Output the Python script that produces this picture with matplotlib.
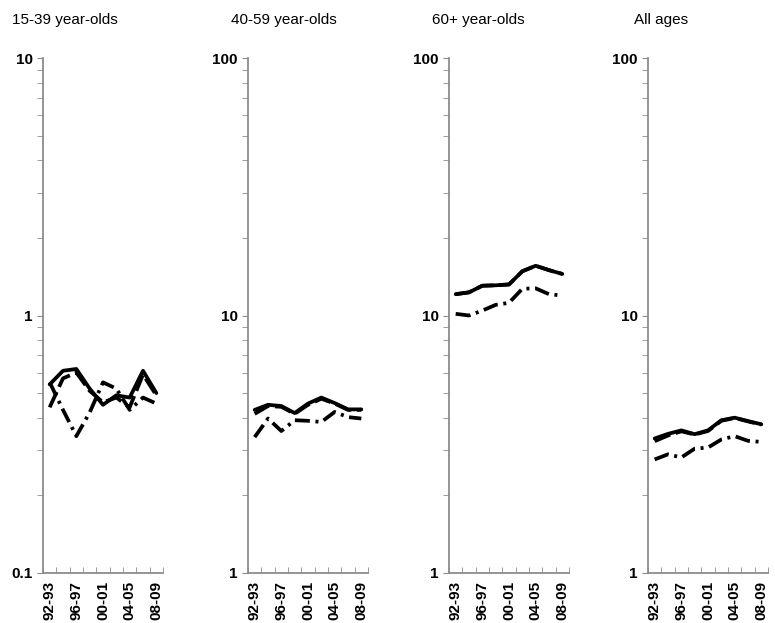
import numpy as np
import matplotlib
matplotlib.use("Agg")
import matplotlib.pyplot as plt
from matplotlib.ticker import FixedLocator, FuncFormatter, NullFormatter, LogLocator

plt.rcParams['font.family'] = ['Liberation Sans', 'DejaVu Sans']

periods = ['92-93', '94-95', '96-97', '98-99', '00-01', '02-03', '04-05', '06-07', '08-09']
titles = ['15-39 year-olds', '40-59 year-olds', '60+ year-olds', 'All ages']

# solid series
solid = [
    [0.54, 0.61, 0.62, 0.52, 0.45, 0.49, 0.48, 0.61, 0.50],
    [4.30, 4.50, 4.45, 4.18, 4.55, 4.80, 4.57, 4.32, 4.32],
    [12.1, 12.3, 13.05, 13.1, 13.2, 14.85, 15.6, 15.0, 14.5],
    [3.33, 3.47, 3.58, 3.46, 3.58, 3.92, 4.01, 3.89, 3.78],
]
# dashed series
dashed = [
    [0.44, 0.57, 0.60, 0.51, 0.46, 0.48, 0.44, 0.59, 0.49],
    [4.15, 4.45, 4.42, 4.15, 4.50, 4.75, 4.55, 4.30, 4.30],
    [12.1, 12.3, 13.05, 13.1, 13.2, 14.85, 15.6, 15.0, 14.5],
    [3.25, 3.42, 3.55, 3.45, 3.56, 3.90, 4.00, 3.88, 3.77],
]
# dash-dot series
dashdot = [
    [0.55, 0.43, 0.34, 0.42, 0.55, 0.52, 0.43, 0.48, 0.455],
    [3.37, 3.98, 3.56, 3.92, 3.90, 3.86, 4.22, 4.03, 3.98],
    [10.15, 10.0, 10.45, 11.0, 11.2, 12.7, 12.75, 12.1, 11.95],
    [2.76, 2.89, 2.81, 3.04, 3.07, 3.30, 3.40, 3.26, 3.23],
]
ylims = [(0.1, 10), (1, 100), (1, 100), (1, 100)]

W, H = 775, 623
fig = plt.figure(figsize=(W / 100, H / 100), dpi=100)
lefts = [43, 248, 449, 648]
title_x = [12, 231, 432, 634]
grey = '#8c8c8c'
x = np.arange(len(periods))

for i in range(4):
    ax = fig.add_axes([lefts[i] / W, 1 - 573 / H, 120 / W, (573 - 58) / H])
    ax.plot(x, dashed[i], color='black', lw=2.7, dashes=(4.5, 1.5))
    ax.plot(x, dashdot[i], color='black', lw=2.7, dashes=(4, 1.5, 0.8, 1.5))
    ax.plot(x, solid[i], color='black', lw=2.7, solid_capstyle='round')
    ax.set_yscale('log')
    ax.set_ylim(*ylims[i])
    ax.set_xlim(-0.5, len(periods) - 0.5)
    ax.yaxis.set_major_locator(LogLocator(base=10))
    ax.yaxis.set_major_formatter(FuncFormatter(lambda v, p: '%g' % v))
    ax.yaxis.set_minor_locator(LogLocator(base=10, subs=np.arange(2, 10)))
    ax.yaxis.set_minor_formatter(NullFormatter())
    ax.xaxis.set_major_locator(FixedLocator(x[::2]))
    ax.set_xticklabels(periods[::2], rotation=90, fontsize=11, fontweight='bold')
    ax.xaxis.set_minor_locator(FixedLocator(np.arange(-0.5, len(periods), 1)))
    ax.tick_params(axis='x', which='major', length=0, pad=6)
    ax.tick_params(axis='x', which='minor', length=4, color=grey, direction='in')
    ax.tick_params(axis='y', which='both', length=4, color=grey, direction='out')
    for lab in ax.get_yticklabels():
        lab.set_fontsize(11)
        lab.set_fontweight('bold')
    for s in ['top', 'right']:
        ax.spines[s].set_visible(False)
    for s in ['left', 'bottom']:
        ax.spines[s].set_color(grey)
        ax.spines[s].set_linewidth(1.3)
    fig.text(title_x[i] / W, 1 - 20 / H, titles[i], fontsize=11, va='center', ha='left')

fig.savefig('out.png', dpi=100)
